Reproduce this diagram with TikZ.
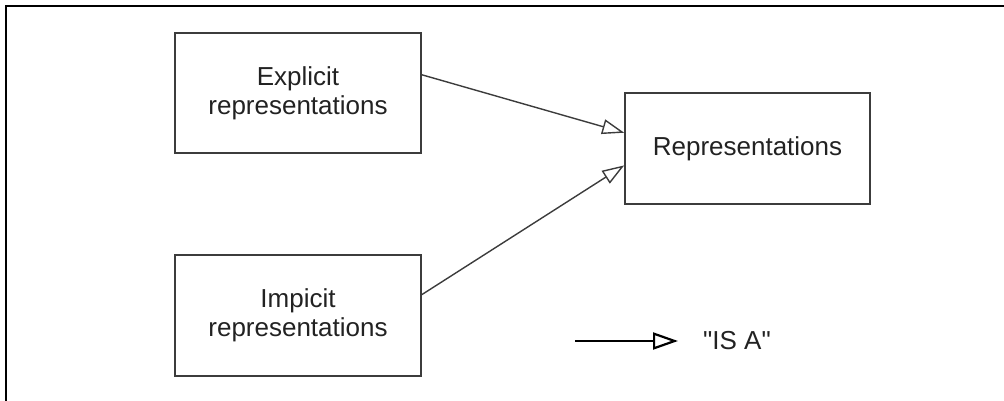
\documentclass[tikz,border=0pt]{standalone}
\usepackage{fontspec}
\setmainfont{Liberation Sans}[Ligatures=TeXOff]
\usetikzlibrary{arrows.meta,calc}
\definecolor{boxline}{HTML}{3C3C3C}
\definecolor{txt}{HTML}{222222}
\tikzset{
  conceptbox/.style={draw=boxline, line width=1.6pt, minimum width=246pt, minimum height=120pt,
    align=center, text=txt, inner sep=0pt, font=\fontsize{26pt}{29pt}\selectfont},
  isarrow/.style={draw=boxline, line width=1.4pt, -{Triangle[open, length=22pt, width=15pt, line width=1.4pt]}},
  legendarrow/.style={draw=black, line width=2.2pt, -{Triangle[open, length=25pt, width=17pt, line width=2.2pt]}},
}
\begin{document}
\begin{tikzpicture}[x=1pt, y=-1pt]
\useasboundingbox (0,0) rectangle (1004,401);
\draw[line width=2.5pt, black] (6,401) -- (6,6) -- (1004,6);
\node[conceptbox] (exp) at (298,93) {Explicit\\representations};
\node[conceptbox, minimum height=121pt] (imp) at (298,315.5) {Impicit\\representations};
\node[conceptbox, minimum width=245pt, minimum height=111pt] (rep) at (747.5,148.5) {Representations};
\draw[isarrow] ($(exp.north east)!0.35!(exp.south east)$) -- ($(rep.north west)!0.36!(rep.south west)$);
\draw[isarrow] ($(imp.north east)!0.33!(imp.south east)$) -- ($(rep.north west)!0.65!(rep.south west)$);
\coordinate (ls) at (575,341);
\coordinate (le) at (678,341);
\draw[legendarrow] (ls) -- (le);
\node[anchor=west, inner sep=0pt, text=txt, font=\fontsize{26pt}{29pt}\selectfont] (isa) at (703,341) {"IS A"};
\end{tikzpicture}
\end{document}
